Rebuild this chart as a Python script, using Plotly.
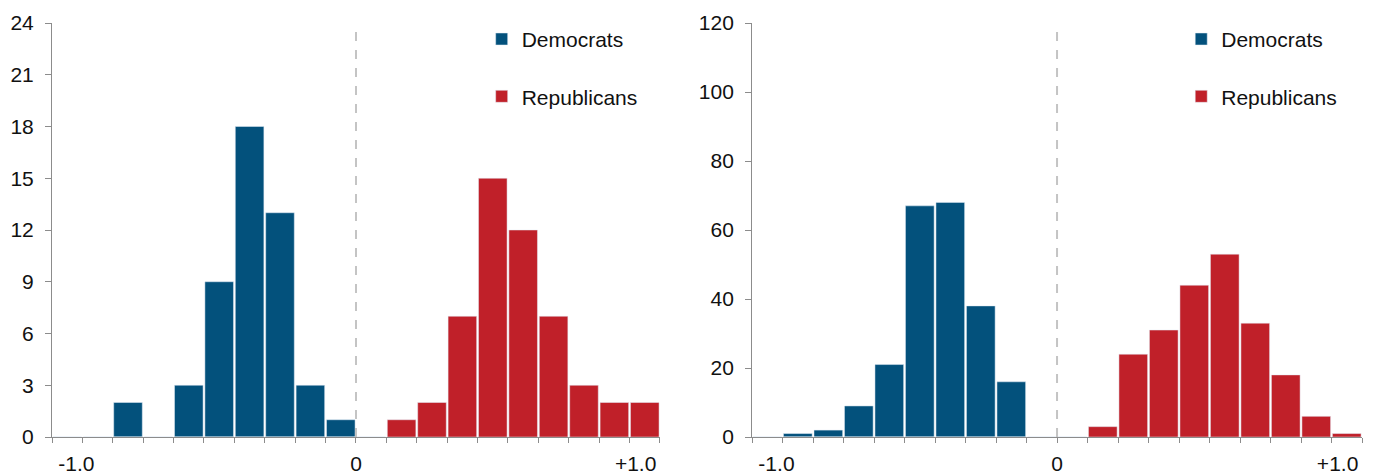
"""
Two side-by-side histograms: Democrats vs Republicans on a -1..+1 scale.
"""

import plotly.graph_objects as go
from plotly.subplots import make_subplots

# ============================================================
# Data
# ============================================================
BIN_CENTERS = [-0.95, -0.85, -0.75, -0.65, -0.55, -0.45, -0.35, -0.25, -0.15, -0.05,
               0.05, 0.15, 0.25, 0.35, 0.45, 0.55, 0.65, 0.75, 0.85, 0.95]

LEFT_DEM = [0, 0, 2, 0, 3, 9, 18, 13, 3, 1, 0, 0, 0, 0, 0, 0, 0, 0, 0, 0]
LEFT_REP = [0, 0, 0, 0, 0, 0, 0, 0, 0, 0, 0, 1, 2, 7, 15, 12, 7, 3, 2, 2]

RIGHT_DEM = [0, 1, 2, 9, 21, 67, 68, 38, 16, 0, 0, 0, 0, 0, 0, 0, 0, 0, 0, 0]
RIGHT_REP = [0, 0, 0, 0, 0, 0, 0, 0, 0, 0, 0, 3, 24, 31, 44, 53, 33, 18, 6, 1]

X_TICK_LABELS = ["-1.0", "0", "+1.0"]
X_MINOR_TICKS = [-1.0, -0.9, -0.8, -0.7, -0.6, -0.5, -0.4, -0.3, -0.2, -0.1, 0.0,
                 0.1, 0.2, 0.3, 0.4, 0.5, 0.6, 0.7, 0.8, 0.9, 1.0]

# ============================================================
# Style
# ============================================================
BLU = "#03517c"
ROSSO = "#c02029"
GRIGIO_ASSE = "#8c8c8c"
FONT = dict(family="Liberation Sans, Arial, sans-serif", size=21, color="#111111")
X_LABEL_POS = [-0.92, 0, 0.92]

fig = make_subplots(rows=1, cols=2)

pannelli = [
    (1, LEFT_DEM, LEFT_REP, "legend"),
    (2, RIGHT_DEM, RIGHT_REP, "legend2"),
]
for col, dem, rep, leg in pannelli:
    fig.add_trace(go.Bar(x=BIN_CENTERS, y=dem, name="Democrats", marker_color=BLU,
                         legend=leg, legendgroup=f"d{col}", hoverinfo="x+y"),
                  row=1, col=col)
    fig.add_trace(go.Bar(x=BIN_CENTERS, y=rep, name="Republicans", marker_color=ROSSO,
                         legend=leg, legendgroup=f"r{col}", hoverinfo="x+y"),
                  row=1, col=col)

asse_x = dict(
    range=[-1, 1], showline=True, linecolor=GRIGIO_ASSE, linewidth=1,
    showgrid=False, zeroline=False, automargin=False,
    tickvals=X_LABEL_POS, ticktext=X_TICK_LABELS, ticks="",
    ticklabelstandoff=8, tickfont=FONT,
    minor=dict(tickvals=X_MINOR_TICKS, ticks="outside", ticklen=5,
               tickcolor=GRIGIO_ASSE, showgrid=False),
)
asse_y = dict(
    showline=True, linecolor=GRIGIO_ASSE, linewidth=1,
    showgrid=False, zeroline=False, automargin=False,
    ticks="outside", ticklen=6, tickcolor=GRIGIO_ASSE,
    ticklabelstandoff=7, tickfont=FONT,
)

fig.update_xaxes(asse_x)
fig.update_yaxes(asse_y)
fig.update_layout(
    xaxis=dict(domain=[0, 0.4641]),
    xaxis2=dict(domain=[0.5344, 1.0]),
    yaxis=dict(range=[0, 24], dtick=3),
    yaxis2=dict(range=[0, 120], dtick=20),
)

# linea tratteggiata sullo zero
for xr, yr in [("x", "y domain"), ("x2", "y2 domain")]:
    fig.add_shape(type="line", xref=xr, yref=yr, x0=0, x1=0, y0=0, y1=1,
                  line=dict(color="#c4c4c4", width=2, dash="dash"))

legenda = dict(font=FONT, bgcolor="rgba(0,0,0,0)", tracegroupgap=27,
               yanchor="top", y=1.01, xanchor="left", itemclick=False)
fig.update_layout(
    legend=dict(legenda, x=0.328),
    legend2=dict(legenda, x=0.862),
    barmode="overlay",
    bargap=0.06,
    font=FONT,
    plot_bgcolor="white",
    paper_bgcolor="white",
    margin=dict(l=52, r=19, t=23, b=37, autoexpand=False),
    width=1381, height=474,
)

# niente margine del body, cosi' la figura parte dall'angolo in alto a sinistra
fig.write_html("out.html", config={"displayModeBar": False},
               post_script="document.body.style.margin='0';")
